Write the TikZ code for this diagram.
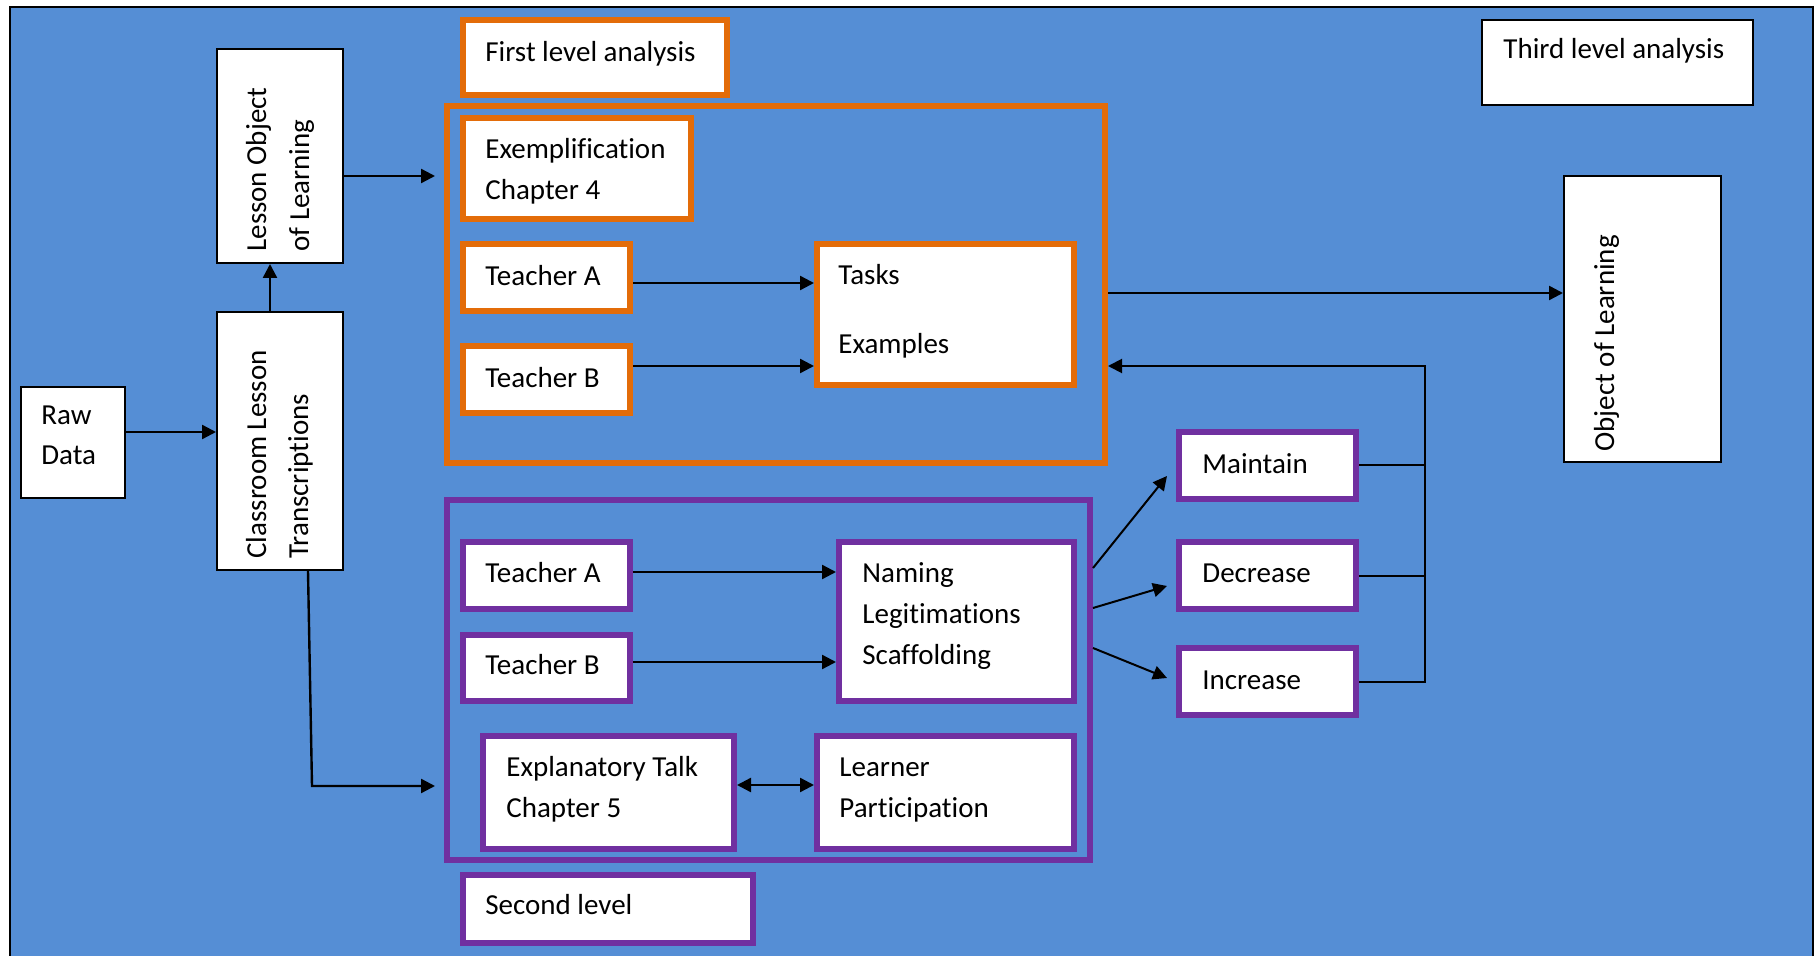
\documentclass[tikz,border=0pt]{standalone}
\usepackage{fontspec}
\setmainfont{Carlito}[Ligatures=NoCommon]
\usetikzlibrary{arrows.meta}
\definecolor{bgblue}{HTML}{558ED5}
\definecolor{lvlorange}{HTML}{E36C09}
\definecolor{lvlpurple}{HTML}{7030A0}

% \placebox{style}{name}{x1}{y1}{x2}{y2}{line width in pt}: box given by its outer edges (px)
\newcommand\placebox[7]{%
  \pgfmathsetmacro\bxw{((#5)-(#3))/2-#7}%
  \pgfmathsetmacro\bxh{((#6)-(#4))/2-#7}%
  \node[#1, line width=#7pt, minimum width=\bxw pt, minimum height=\bxh pt]
    (#2) at ({((#3)+(#5))/2},{((#4)+(#6))/2}) {};%
}

\begin{document}
\begin{tikzpicture}[x=0.5pt,y=-0.5pt,
  kbox/.style={draw=black, fill=white, inner sep=0pt},
  obox/.style={draw=lvlorange, fill=white, inner sep=0pt},
  pbox/.style={draw=lvlpurple, fill=white, inner sep=0pt},
  ocont/.style={draw=lvlorange, inner sep=0pt},
  pcont/.style={draw=lvlpurple, inner sep=0pt},
  lbl/.style={anchor=base west, inner sep=0pt, yshift=-0.75pt, font=\fontsize{14.5}{17}\selectfont},
  rlbl/.style={anchor=base west, inner sep=0pt, rotate=90, font=\fontsize{14.5}{17}\selectfont},
  arr/.style={line width=1.2pt, -{Triangle[length=7pt,width=7pt]}},
  darr/.style={line width=1.2pt, {Triangle[length=7pt,width=7pt]}-{Triangle[length=7pt,width=7pt]}},
  link/.style={line width=1pt},
]
\useasboundingbox (0,0) rectangle (1814,956);
% page background
\fill[bgblue] (10,7) rectangle (1813,956);
\draw[line width=1pt] (10,956) -- (10,7) -- (1813,7) -- (1813,956);

% plain boxes
\placebox{kbox}{raw}{20}{386}{126}{499}{0.9}
\placebox{kbox}{lesson}{216}{48}{344}{264}{0.9}
\placebox{kbox}{classroom}{216}{311}{344}{571}{0.9}
\placebox{kbox}{third}{1481}{19}{1754}{106}{0.9}
\placebox{kbox}{obj}{1563}{175}{1722}{463}{0.9}

% first level
\placebox{obox}{first}{460}{17}{730}{98}{3}
\placebox{ocont}{firstcont}{444}{103}{1108}{466}{3}
\placebox{obox}{exempl}{460}{115}{694}{222}{3}
\placebox{obox}{tA1}{460}{241}{633}{314}{3}
\placebox{obox}{tB1}{460}{343}{633}{416}{3}
\placebox{obox}{tasks}{814}{241}{1077}{388}{3}

% second level
\placebox{pcont}{secondcont}{444}{497}{1093}{863}{3}
\placebox{pbox}{tA2}{460}{539}{633}{612}{3}
\placebox{pbox}{tB2}{460}{632}{633}{704}{3}
\placebox{pbox}{expl}{480}{733}{737}{852}{3}
\placebox{pbox}{learner}{814}{733}{1077}{852}{3}
\placebox{pbox}{naming}{836}{539}{1077}{704}{3}
\placebox{pbox}{maintain}{1176}{429}{1359}{502}{3}
\placebox{pbox}{decrease}{1176}{539}{1359}{612}{3}
\placebox{pbox}{increase}{1176}{645}{1359}{718}{3}
\placebox{pbox}{second}{460}{872}{756}{946}{3}

% labels
\node[lbl] (lRaw) at (41,423) {Raw};
\node[lbl] (lData) at (41,463) {Data};
\node[rlbl] (lLes1) at (266,252) {Lesson Object};
\node[rlbl] (lLes2) at (309,252) {of Learning};
\node[rlbl] (lCls1) at (266,559) {Classroom Lesson};
\node[rlbl] (lCls2) at (308,559) {Transcriptions};
\node[rlbl] (lObj) at (1614,452) {Object of Learning};
\node[lbl] (lFirst) at (485,60) {First level analysis};
\node[lbl] (lThird) at (1503,57) {Third level analysis};
\node[lbl] (lEx1) at (485,157) {Exemplification};
\node[lbl] (lEx2) at (485,198) {Chapter 4};
\node[lbl] (lTA1) at (485,284) {Teacher A};
\node[lbl] (lTB1) at (485,386) {Teacher B};
\node[lbl] (lTasks) at (838,283) {Tasks};
\node[lbl] (lExamples) at (838,352) {Examples};
\node[lbl] (lTA2) at (485,581) {Teacher A};
\node[lbl] (lTB2) at (485,673) {Teacher B};
\node[lbl] (lNam1) at (862,581) {Naming};
\node[lbl] (lNam2) at (862,622) {Legitimations};
\node[lbl] (lNam3) at (862,663) {Scaffolding};
\node[lbl] (lExp1) at (506,775) {Explanatory Talk};
\node[lbl] (lExp2) at (506,816) {Chapter 5};
\node[lbl] (lLrn1) at (839,775) {Learner};
\node[lbl] (lLrn2) at (839,816) {Participation};
\node[lbl] (lMaint) at (1202,472) {Maintain};
\node[lbl] (lDecr) at (1202,581) {Decrease};
\node[lbl] (lIncr) at (1202,688) {Increase};
\node[lbl] (lSecond) at (485,913) {Second level};

% connectors
\draw[arr] ([shift={(0,-10.5)}]raw.east) -- ([shift={(0,-10.5)}]raw.east -| classroom.west);
\draw[arr] ([shift={(-10,0)}]classroom.north) -- ([shift={(-10,0)}]lesson.south);
\coordinate (lin) at (435,176);
\draw[arr] (lin -| lesson.east) -- (lin);
\coordinate (cbend) at (312,786);
\coordinate (cin) at (435,786);
\draw[arr] ([shift={(28,0)}]classroom.south) -- (cbend) -- (cin);

\draw[arr] ([shift={(0,5.5)}]tA1.east) -- ([shift={(0,5.5)}]tA1.east -| tasks.west);
\draw[arr] ([shift={(0,-13.5)}]tB1.east) -- ([shift={(0,-13.5)}]tB1.east -| tasks.west);
\draw[arr] ([shift={(0,-3.5)}]tA2.east) -- ([shift={(0,-3.5)}]tA2.east -| naming.west);
\draw[arr] ([shift={(0,-6)}]tB2.east) -- ([shift={(0,-6)}]tB2.east -| naming.west);
\draw[darr] ([shift={(0,-7.5)}]expl.east) -- ([shift={(0,-7.5)}]expl.east -| learner.west);

\draw[arr, line width=1pt] (secondcont.east |- 0,568) -- ([shift={(-9,10.5)}]maintain.west);
\draw[arr, line width=1pt] (secondcont.east |- 0,608) -- ([shift={(-9,10.5)}]decrease.west);
\draw[arr, line width=1pt] (secondcont.east |- 0,648) -- ([shift={(-9,-3.5)}]increase.west);

\coordinate (oy) at (0,293);
\draw[arr] (oy -| firstcont.east) -- (oy -| obj.west);

\coordinate (bus) at (1425,366);
\draw[link] (maintain.east) -- (maintain.east -| bus);
\draw[link] (decrease.east) -- (decrease.east -| bus);
\draw[arr, line width=1pt] (increase.east) -| (bus) -- (bus -| firstcont.east);
\end{tikzpicture}
\end{document}
